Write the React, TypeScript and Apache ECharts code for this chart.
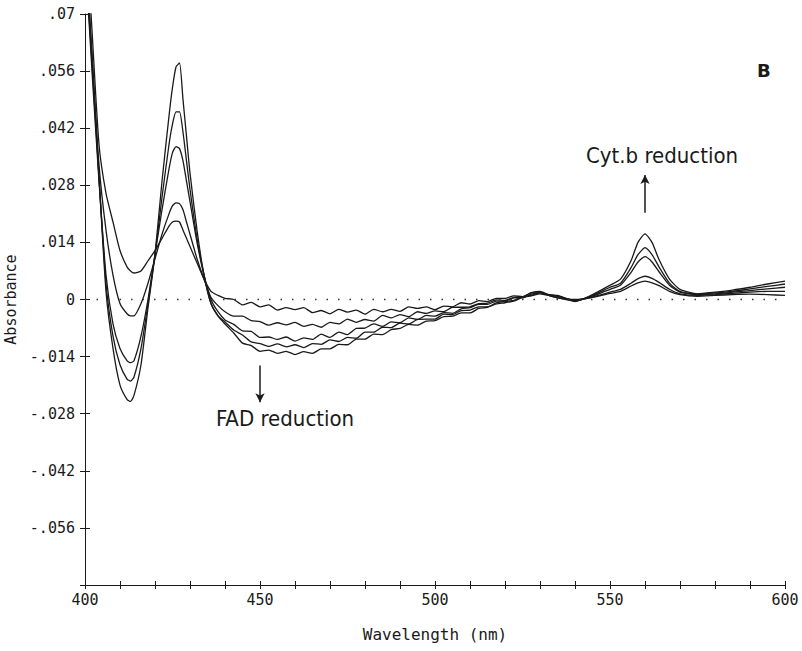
import React, { useEffect, useRef } from "react";
import * as echarts from "echarts";

const wavelengths = [
  400, 402, 404, 406, 408, 410, 412, 413, 414, 416, 418, 420, 422, 424, 425, 426, 427, 428, 429, 430,
  432, 434, 436, 438,
  440, 442.5, 445, 447.5, 450, 452.5, 455, 457.5, 460, 462.5, 465, 467.5, 470, 472.5, 475, 477.5, 480, 482.5, 485, 487.5,
  490, 492.5, 495, 497.5, 500, 502.5, 505, 507.5, 510, 512.5, 515, 517.5, 520, 522.5, 525, 527.5, 530, 532.5, 535, 537.5, 540,
  545, 550, 553, 556, 558, 560, 562, 564, 567, 570, 575, 580, 585, 590, 595, 600,
];

const curve1 = [
  0.095, 0.066, 0.038, 0.026, 0.019, 0.012, 0.008, 0.007, 0.0065, 0.007, 0.0095, 0.012, 0.015, 0.018, 0.019, 0.0192, 0.019, 0.017, 0.015, 0.013,
  0.009, 0.005, 0.002, 0.001,
  0.0003, 0.0, -0.0013, -0.0007, -0.0018, -0.0013, -0.0026, -0.002, -0.0025, -0.002, -0.0032, -0.0027, -0.0035, -0.0024, -0.0031, -0.0026, -0.0036, -0.0024, -0.003, -0.0024,
  -0.0029, -0.0018, -0.0022, -0.0018, -0.0025, -0.0016, -0.0018, -0.0008, -0.0011, -0.0003, -0.0005, 0.0003, 0.0003, 0.0009, 0.0007, 0.0017, 0.002, 0.0012, 0.001, 0.0003, 0.0,
  0.0005, 0.0015, 0.002, 0.0033, 0.0041, 0.0045, 0.0041, 0.0034, 0.002, 0.0012, 0.0008, 0.001, 0.0012, 0.0013, 0.0012, 0.001,
];
const curve2 = [
  0.09, 0.06, 0.033, 0.017, 0.006, -0.001, -0.0035, -0.004, -0.004, -0.001, 0.004, 0.01, 0.016, 0.021, 0.023, 0.0237, 0.0235, 0.022, 0.019, 0.016,
  0.01, 0.005, 0.0005, -0.0015,
  -0.003, -0.0041, -0.0041, -0.0052, -0.0054, -0.0063, -0.0057, -0.0062, -0.0056, -0.0066, -0.0061, -0.0068, -0.0056, -0.006, -0.0048, -0.0056, -0.0049, -0.0053, -0.0039, -0.0045,
  -0.0037, -0.0042, -0.003, -0.0034, -0.0028, -0.003, -0.0019, -0.0019, -0.0018, -0.001, -0.0009, -0.0001, -0.0002, 0.0005, 0.0006, 0.0016, 0.0017, 0.0012, 0.0009, 0.0002, -0.0002,
  0.0006, 0.0018, 0.0025, 0.004, 0.0051, 0.0057, 0.0052, 0.0042, 0.0025, 0.0014, 0.001, 0.0012, 0.0015, 0.0018, 0.002, 0.002,
];
const curve3 = [
  0.085, 0.056, 0.029, 0.006, -0.006, -0.012, -0.015, -0.0155, -0.015, -0.009, 0.0, 0.011, 0.022, 0.032, 0.036, 0.0375, 0.037, 0.034, 0.029, 0.024,
  0.014, 0.006, 0.0, -0.003,
  -0.005, -0.0061, -0.0077, -0.0078, -0.0093, -0.0092, -0.0098, -0.0092, -0.0102, -0.0094, -0.0098, -0.0085, -0.0093, -0.008, -0.0086, -0.0071, -0.007, -0.006, -0.0066, -0.0055,
  -0.0057, -0.0045, -0.0049, -0.0039, -0.0041, -0.0032, -0.0034, -0.0023, -0.002, -0.0012, -0.0012, -0.0004, -0.0004, 0.0004, 0.0004, 0.0013, 0.0017, 0.001, 0.0008, 0.0002, -0.0003,
  0.0008, 0.0025, 0.0035, 0.0066, 0.0092, 0.0105, 0.0092, 0.0068, 0.0035, 0.0018, 0.0012, 0.0014, 0.0018, 0.0022, 0.0026, 0.003,
];
const curve4 = [
  0.085, 0.058, 0.03, 0.004, -0.009, -0.016, -0.0195, -0.02, -0.019, -0.012, -0.001, 0.011, 0.025, 0.038, 0.043, 0.046, 0.046, 0.041, 0.034, 0.027,
  0.015, 0.006, -0.001, -0.004,
  -0.0055, -0.0075, -0.0087, -0.0104, -0.0108, -0.0115, -0.0109, -0.0116, -0.0111, -0.0118, -0.0108, -0.011, -0.0099, -0.0103, -0.0093, -0.0095, -0.008, -0.008, -0.0068, -0.0069,
  -0.0058, -0.006, -0.0049, -0.0048, -0.0048, -0.0036, -0.0037, -0.0027, -0.0026, -0.0018, -0.0018, -0.0008, -0.0005, -0.0002, 0.0007, 0.001, 0.0017, 0.001, 0.0004, 0.0001, -0.0004,
  0.001, 0.003, 0.004, 0.0078, 0.011, 0.0127, 0.011, 0.008, 0.004, 0.002, 0.0013, 0.0016, 0.002, 0.0026, 0.0032, 0.0038,
];
const curve5 = [
  0.085, 0.06, 0.03, 0.002, -0.012, -0.021, -0.0245, -0.025, -0.0235, -0.016, -0.002, 0.011, 0.029, 0.045, 0.052, 0.057, 0.058, 0.049, 0.04, 0.031,
  0.017, 0.006, -0.001, -0.004,
  -0.006, -0.0082, -0.0107, -0.0113, -0.0127, -0.0124, -0.0132, -0.0127, -0.0135, -0.0128, -0.0132, -0.0121, -0.0121, -0.011, -0.0111, -0.0097, -0.0097, -0.0085, -0.0086, -0.0074,
  -0.0071, -0.0061, -0.0063, -0.0053, -0.0052, -0.0042, -0.0041, -0.0033, -0.0033, -0.0022, -0.0019, -0.0011, -0.0008, -0.0004, 0.0005, 0.0009, 0.0014, 0.001, 0.0004, 0.0, -0.0005,
  0.0012, 0.0035, 0.005, 0.0095, 0.014, 0.0161, 0.014, 0.0098, 0.005, 0.0025, 0.0014, 0.0018, 0.0023, 0.003, 0.0038, 0.0045,
];

const curves = [curve1, curve2, curve3, curve4, curve5];

const xTitle = "Wavelength (nm)";
const yTitle = "Absorbance";
const panelLabel = "B";
const cytLabel = "Cyt.b reduction";
const fadLabel = "FAD reduction";

const MONO = "'DejaVu Sans Mono', 'Liberation Mono', monospace";
const NARROW = "'DejaVu Sans Condensed', 'Liberation Sans Narrow', 'Noto Sans', sans-serif";

function fmtY(v: number): string {
  const r = Math.round(v * 1000) / 1000;
  if (Math.abs(r) < 1e-9) return "0";
  if (r < 0 && Math.abs(r + 0.07) < 1e-9) return "";
  const s = String(Math.abs(r)).replace(/^0/, "");
  return (r < 0 ? "-" : "") + s;
}

export default function App() {
  const ref = useRef<HTMLDivElement>(null);
  useEffect(() => {
    if (!ref.current) return;
    const chart = echarts.init(ref.current, undefined, { renderer: "svg" });
    const ink = "#1a1a1a";
    const series: any[] = curves.map((c) => ({
      type: "line",
      xAxisIndex: 0,
      yAxisIndex: 0,
      data: wavelengths.map((w, j) => [w, c[j]]),
      showSymbol: false,
      smooth: 0.2,
      clip: true,
      lineStyle: { color: ink, width: 1.3 },
      z: 3,
    }));
    series[0].markLine = {
      silent: true,
      symbol: "none",
      label: { show: false },
      lineStyle: { color: "#333", width: 1.4, type: [1.5, 10] },
      data: [{ yAxis: 0 }],
    };
    series[1].markLine = {
      silent: true,
      symbol: ["none", "arrow"],
      symbolSize: [7, 9],
      label: { show: false },
      lineStyle: { color: ink, width: 1.5, type: "solid" },
      data: [
        [{ coord: [560, 0.0213] }, { coord: [560, 0.0305] }],
        [{ coord: [450, -0.0162] }, { coord: [450, -0.0252] }],
      ],
    };
    chart.setOption({
      animation: false,
      backgroundColor: "#ffffff",
      grid: { left: 85, right: 17, top: 14, bottom: 66, containLabel: false, outerBoundsMode: "none" },
      xAxis: [
        {
          type: "value",
          min: 400,
          max: 600,
          interval: 10,
          name: xTitle,
          nameLocation: "middle",
          nameGap: 41,
          nameTextStyle: { fontFamily: MONO, fontSize: 16, color: ink },
          axisLine: { show: true, onZero: false, lineStyle: { color: ink, width: 1 } },
          axisTick: { show: true, inside: false, length: 4, lineStyle: { color: ink } },
          axisLabel: {
            show: true,
            margin: 7,
            fontFamily: MONO,
            fontSize: 15,
            color: ink,
            showMinLabel: true,
            showMaxLabel: true,
            formatter: (v: number) => (v % 50 === 0 ? String(v) : ""),
          },
          splitLine: { show: false },
        },
        {
          type: "value",
          min: 400,
          max: 600,
          interval: 10,
          position: "bottom",
          offset: 0,
          axisLine: { show: false, onZero: false },
          axisTick: { show: true, inside: true, length: 4, lineStyle: { color: ink } },
          axisLabel: { show: false },
          splitLine: { show: false },
        },
      ],
      yAxis: [
        {
          type: "value",
          min: -0.07,
          max: 0.07,
          interval: 0.014,
          name: yTitle,
          nameLocation: "middle",
          nameGap: 63,
          nameRotate: 90,
          nameTextStyle: { fontFamily: MONO, fontSize: 15, color: ink },
          axisLine: { show: true, onZero: false, lineStyle: { color: ink, width: 1 } },
          axisTick: { show: true, inside: false, length: 5, lineStyle: { color: ink } },
          axisLabel: {
            show: true,
            margin: 10,
            fontFamily: MONO,
            fontSize: 15,
            color: ink,
            formatter: (v: number) => fmtY(v),
          },
          splitLine: { show: false },
        },
        {
          type: "value",
          min: -0.07,
          max: 0.07,
          interval: 0.014,
          position: "left",
          offset: 0,
          axisLine: { show: false, onZero: false },
          axisTick: { show: true, inside: true, length: 5, lineStyle: { color: ink } },
          axisLabel: { show: false },
          splitLine: { show: false },
        },
      ],
      series,
      graphic: [
        {
          type: "text",
          left: 586,
          top: 144,
          style: { text: cytLabel, fontFamily: NARROW, fontSize: 22, fill: ink },
        },
        {
          type: "text",
          left: 216,
          top: 407,
          style: { text: fadLabel, fontFamily: NARROW, fontSize: 22, fill: ink },
        },
        {
          type: "text",
          left: 757,
          top: 61,
          style: { text: panelLabel, fontFamily: "'DejaVu Sans', sans-serif", fontSize: 18, fontWeight: "bold", fill: ink },
        },
      ],
    });
    return () => chart.dispose();
  }, []);
  return <div ref={ref} style={{ width: 802, height: 651, position: "absolute", left: 0, top: 0 }} />;
}
